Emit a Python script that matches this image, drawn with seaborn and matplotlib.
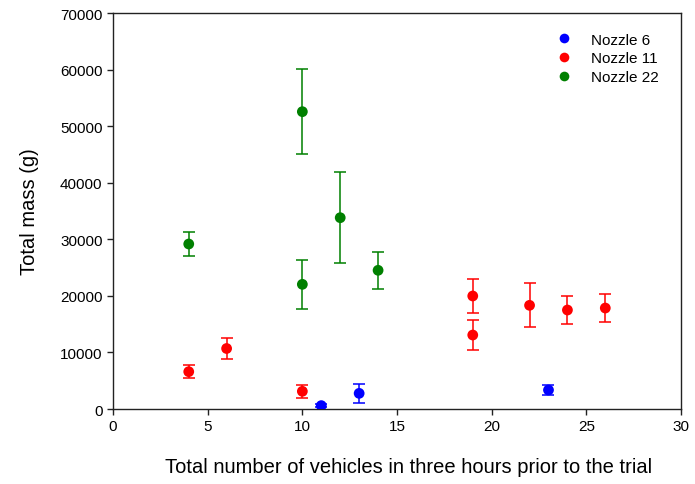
import numpy as np
import pandas as pd
import matplotlib
matplotlib.use("Agg")
import matplotlib.pyplot as plt
import seaborn as sns

# Nozzle 6
n6_vehicles = [11, 13, 23]
n6_mass = [600, 2770, 3360]
n6_err = [300, 1650, 950]

# Nozzle 11
n11_vehicles = [4, 6, 10, 19, 19, 22, 24, 26]
n11_mass = [6600, 10700, 3130, 19980, 13080, 18330, 17500, 17850]
n11_err = [1100, 1900, 1100, 3000, 2600, 3900, 2500, 2450]

# Nozzle 22
n22_vehicles = [4, 10, 10, 12, 14]
n22_mass = [29170, 52560, 22040, 33820, 24520]
n22_err = [2100, 7500, 4300, 8000, 3300]

series_names = ["Nozzle 6", "Nozzle 11", "Nozzle 22"]
series_colors = ["#0000ff", "#ff0000", "#008000"]

frames = []
for name, xs, ys, es in zip(series_names,
                            [n6_vehicles, n11_vehicles, n22_vehicles],
                            [n6_mass, n11_mass, n22_mass],
                            [n6_err, n11_err, n22_err]):
    frames.append(pd.DataFrame({"vehicles": xs, "mass": ys, "err": es, "nozzle": name}))
df = pd.concat(frames, ignore_index=True)

sns.set_theme(style="ticks")
plt.rcParams["font.family"] = ["Liberation Sans", "DejaVu Sans"]
plt.rcParams["text.color"] = "black"
plt.rcParams["axes.labelcolor"] = "black"

fig = plt.figure(figsize=(6.95, 4.85), dpi=100)
ax = fig.add_axes([0.1626, 0.1546, 0.8173, 0.8165])

palette = dict(zip(series_names, series_colors))
for name in series_names:
    sub = df[df["nozzle"] == name]
    ax.errorbar(sub["vehicles"], sub["mass"], yerr=sub["err"], fmt="none",
                ecolor=palette[name], elinewidth=1.1, capsize=4.3, capthick=1.1,
                zorder=2)

sns.scatterplot(data=df, x="vehicles", y="mass", hue="nozzle", palette=palette,
                hue_order=series_names, s=60, edgecolor="none", linewidth=0,
                ax=ax, zorder=3)

ax.set_xlim(0, 30)
ax.set_ylim(0, 70000)
ax.set_xticks(np.arange(0, 31, 5))
ax.set_yticks(np.arange(0, 70001, 10000))
ax.tick_params(direction="out", length=4, width=1, labelsize=11,
               color="#222222", labelcolor="black")
for sp in ax.spines.values():
    sp.set_visible(True)
    sp.set_color("#222222")
    sp.set_linewidth(1)

ax.set_xlabel("Total number of vehicles in three hours prior to the trial", fontsize=14.5,
              labelpad=17)
ax.xaxis.label.set_x(0.52)
ax.set_ylabel("Total mass (g)", fontsize=14.5, labelpad=15)

handles, labels = ax.get_legend_handles_labels()
leg = ax.legend(handles, labels, loc="upper right", frameon=False, fontsize=11,
                bbox_to_anchor=(0.985, 0.985), handletextpad=0.8, labelspacing=0.3,
                markerscale=0.9)

fig.savefig("out.png", dpi=100)
